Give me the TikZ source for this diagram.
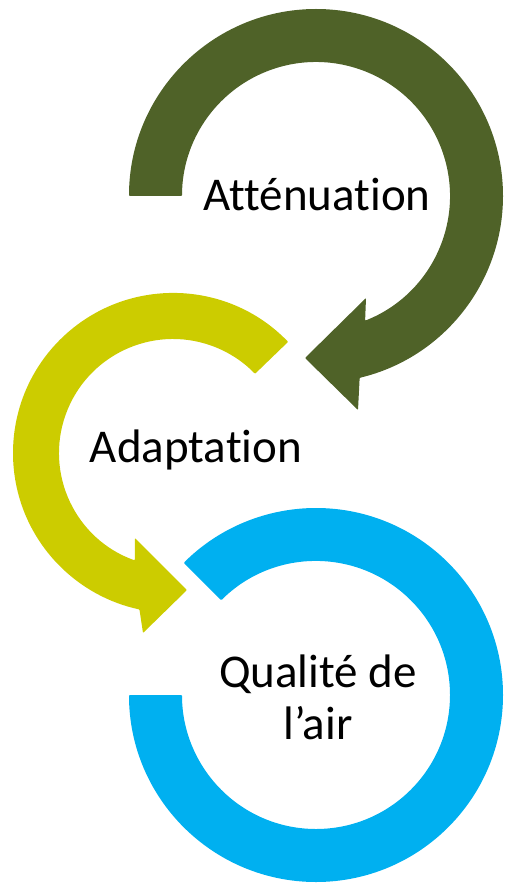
\documentclass[tikz,border=0pt]{standalone}
\usepackage{fontspec}
\setmainfont{Carlito}[Ligatures=NoCommon]
\usepackage{xcolor}
\usepackage{tikz}
\usetikzlibrary{calc}

\definecolor{attgreen}{HTML}{4F6228}
\definecolor{adayellow}{HTML}{CCCC00}
\definecolor{airblue}{HTML}{00B0F0}

\begin{document}
\begin{tikzpicture}[
    x=1pt, y=-1pt,
    band/.style={line join=round, rounded corners=0.8pt},
    lbl/.style={font=\fontsize{47}{52}\selectfont, align=center, inner sep=0pt}
]
\useasboundingbox (0,0) rectangle (504,885);

\coordinate (catt) at (316,196);
\coordinate (cada) at (173,453);
\coordinate (cair) at (316,695);

% Attenuation arrow
\fill[band, attgreen] ($(catt)+(180:187)$) arc[start angle=180, end angle=436.5, radius=187]
    -- (358,410) -- (305,358) -- (366,298)
    -- ($(catt)+(428.5:134)$) arc[start angle=428.5, end angle=180, radius=134] -- cycle;

% Adaptation arrow
\fill[band, adayellow] ($(cada)+(-44:160)$) arc[start angle=-44, end angle=-257.9, radius=160]
    -- (143,633) -- (187,590) -- (135,538)
    -- ($(cada)+(-250.4:114)$) arc[start angle=-250.4, end angle=-44, radius=114] -- cycle;

% Qualite de l'air ring
\fill[band, airblue] ($(cair)+(180:187)$) arc[start angle=180, end angle=-135, radius=187]
    -- ($(cair)+(-135:134)$) arc[start angle=-135, end angle=180, radius=134] -- cycle;

\node[lbl, anchor=base] (att) at (317,211) {Atténuation};
\node[lbl, anchor=base] (ada) at (196,462) {Adaptation};
\node[lbl] (air) at (318,697) {Qualité de\\l’air};

\end{tikzpicture}
\end{document}
